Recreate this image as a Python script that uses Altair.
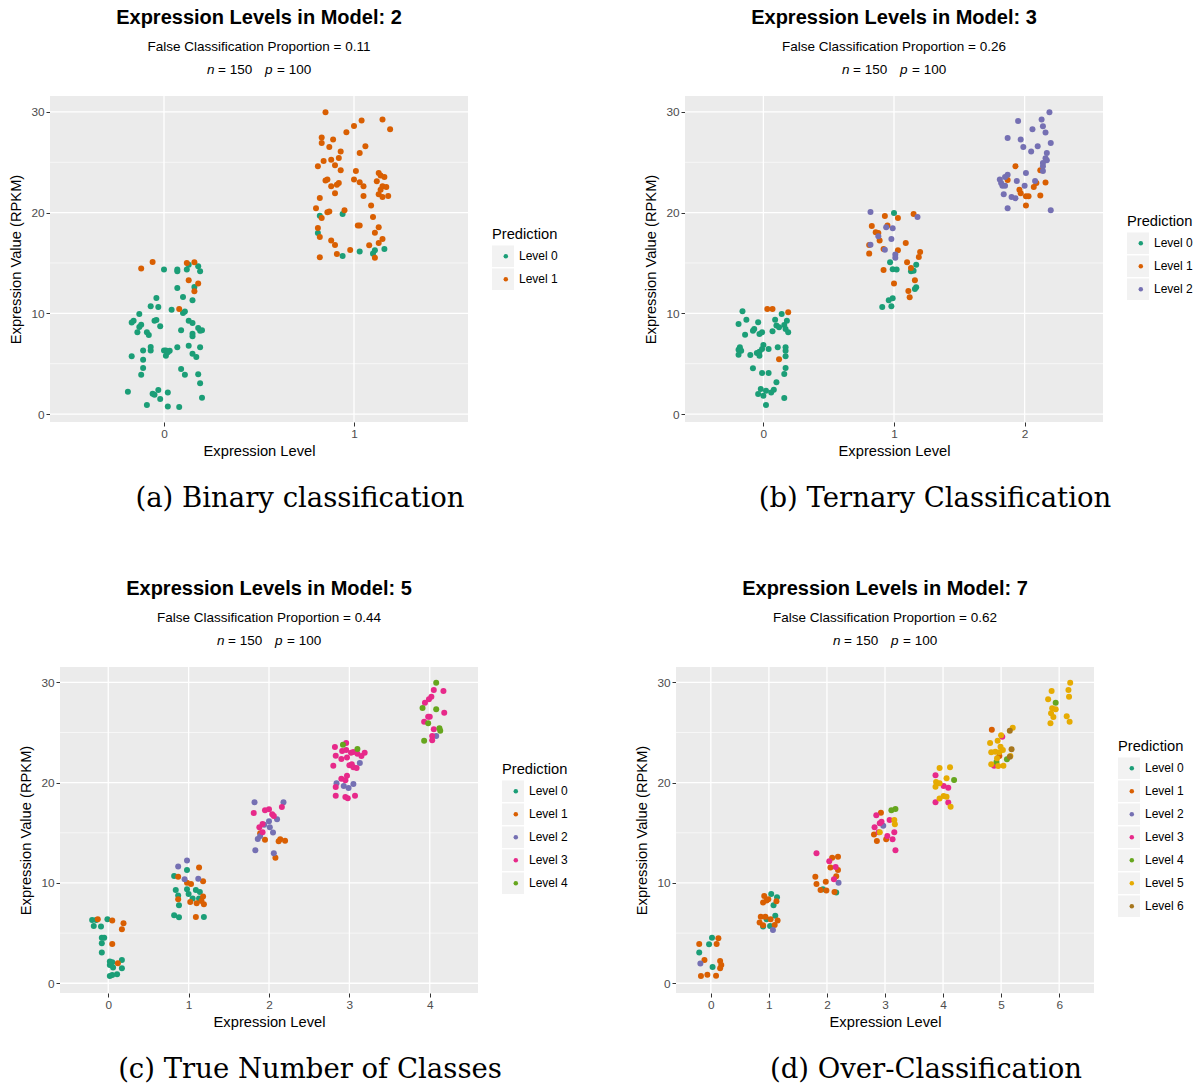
import altair as alt
import pandas as pd

# ---------------- data ----------------
DARK2 = ["#1B9E77", "#D95F02", "#7570B3", "#E7298A", "#66A61E", "#E6AB02", "#A6761D"]
LEVEL_NAMES = ["Level 0", "Level 1", "Level 2", "Level 3", "Level 4", "Level 5", "Level 6"]
Y_MAJOR = [0, 10, 20, 30]
Y_MINOR = [5, 15, 25]
TITLES = ["Expression Levels in Model: 2", "Expression Levels in Model: 3",
          "Expression Levels in Model: 5", "Expression Levels in Model: 7"]
FCP = ["0.11", "0.26", "0.44", "0.62"]
CAPTIONS = ["(a) Binary classification", "(b) Ternary Classification",
            "(c) True Number of Classes", "(d) Over-Classification"]
N_CLASSES = [2, 3, 5, 7]

# Panel (a): (jittered level, expression value) by predicted level
A_LEVEL0 = [(0.0, 14.34), (0.07, 14.34), (0.07, 14.17), (0.12, 14.34), (0.13, 14.83), (0.18, 14.67),
            (0.19, 14.17), (0.07, 12.52), (0.16, 12.62), (-0.04, 11.52), (0.10, 11.62), (0.15, 11.29),
            (-0.07, 10.7), (-0.03, 10.63), (0.04, 10.36), (0.10, 10.03), (0.11, 10.17), (-0.13, 9.93),
            (-0.16, 9.27), (-0.17, 9.1), (0.13, 9.27), (0.15, 9.04), (-0.05, 9.27), (-0.04, 9.34),
            (-0.12, 8.87), (-0.13, 8.64), (-0.02, 8.71), (-0.14, 8.11), (-0.09, 8.11), (-0.08, 7.85),
            (0.09, 8.31), (0.18, 8.54), (0.20, 8.31), (0.19, 8.28), (0.15, 7.98), (0.15, 7.72),
            (-0.07, 6.66), (-0.07, 6.32), (-0.11, 6.32), (0.0, 6.32), (0.01, 6.32), (0.03, 6.29),
            (0.01, 5.8), (0.02, 6.13), (0.07, 6.62), (0.13, 6.79), (0.19, 6.62), (0.15, 5.99),
            (0.17, 5.66), (-0.17, 5.73), (-0.11, 5.4), (-0.11, 4.57), (-0.12, 3.91), (0.09, 4.47),
            (0.11, 3.91), (0.18, 3.94), (0.19, 3.05), (-0.19, 2.22), (-0.06, 2.02), (-0.05, 1.92),
            (-0.03, 2.38), (-0.02, 1.49), (0.02, 2.15), (0.20, 1.62), (-0.09, 0.89), (0.02, 0.76),
            (0.08, 0.7),
            (0.82, 19.7), (0.94, 19.87), (0.81, 17.98), (0.94, 15.7), (1.03, 16.13), (1.10, 15.93),
            (1.11, 16.26), (1.16, 16.39)]
A_LEVEL1 = [(-0.06, 15.1), (-0.12, 14.44), (0.12, 15.0), (0.16, 15.07), (0.13, 13.28), (0.18, 12.95),
            (0.16, 12.19), (0.08, 10.43),
            (0.85, 29.97), (1.04, 29.14), (1.0, 28.61), (1.15, 29.24), (1.19, 28.28), (0.96, 27.98),
            (0.83, 27.45), (0.89, 27.25), (0.83, 26.92), (0.87, 26.52), (0.93, 26.06), (1.06, 26.59),
            (1.03, 25.93), (0.92, 25.43), (0.88, 25.26), (0.84, 25.13), (0.9, 24.7), (0.81, 24.6),
            (0.93, 24.2), (1.01, 24.14), (1.13, 23.94), (1.14, 23.68), (1.16, 23.54), (1.12, 23.11),
            (1.0, 23.28), (1.03, 23.01), (1.05, 22.62), (0.85, 23.18), (0.86, 23.28), (0.88, 22.62),
            (0.92, 22.95), (0.91, 22.78), (1.15, 22.62), (1.17, 22.55), (1.14, 22.28), (0.9, 21.92),
            (1.13, 21.82), (1.15, 21.56), (1.18, 21.66), (1.05, 21.66), (0.82, 21.46), (1.09, 20.7),
            (0.8, 20.43), (0.95, 20.23), (0.86, 20.03), (0.87, 20.1), (0.83, 19.47), (1.1, 19.57),
            (1.02, 18.71), (1.03, 18.71), (0.81, 18.48), (1.13, 18.54), (0.82, 17.58), (1.11, 18.01),
            (1.15, 17.38), (1.13, 16.99), (0.88, 17.22), (0.9, 16.79), (1.08, 16.75), (0.98, 16.29),
            (0.91, 15.89), (1.11, 15.53), (0.82, 15.56)]

# Panel (b)
B_LEVEL0 = [(-0.16, 10.2), (-0.13, 9.37), (-0.19, 8.94), (-0.04, 9.11), (-0.07, 8.44), (-0.08, 8.28),
            (-0.01, 8.11), (-0.03, 7.95), (-0.14, 7.88), (0.09, 9.37), (0.14, 9.93), (0.18, 9.27),
            (0.10, 8.78), (0.12, 8.61), (0.07, 8.21), (0.16, 8.84), (0.17, 8.44), (0.19, 8.11),
            (-0.18, 6.62), (-0.19, 6.39), (-0.17, 6.29), (-0.19, 5.89), (-0.10, 5.86), (-0.05, 6.06),
            (-0.03, 6.19), (0.0, 6.85), (-0.01, 6.46), (0.04, 6.46), (-0.03, 5.8), (0.11, 6.62),
            (0.17, 6.62), (0.17, 6.29), (0.17, 5.73), (-0.08, 4.54), (-0.01, 4.07), (0.04, 4.07),
            (0.17, 4.57), (0.16, 3.97), (0.10, 3.15), (-0.02, 2.48), (0.02, 2.32), (0.06, 2.15),
            (0.08, 2.42), (-0.04, 1.99), (0.0, 1.82), (0.16, 1.59), (0.02, 0.89),
            (1.0, 19.97), (0.97, 15.07), (0.99, 14.37), (1.02, 14.34), (1.13, 14.17), (1.15, 14.24),
            (1.17, 14.83), (1.17, 12.58), (1.16, 12.42), (0.96, 11.29), (0.99, 11.49), (0.91, 10.63),
            (0.98, 10.7)]
B_LEVEL1 = [(0.03, 10.43), (0.07, 10.43), (0.19, 10.1), (0.12, 5.43),
            (0.93, 19.67), (1.03, 19.47), (1.15, 19.87), (0.83, 18.68), (0.95, 18.71), (0.86, 18.05),
            (0.88, 17.98), (0.89, 17.22), (0.81, 16.79), (0.81, 15.93), (0.92, 16.39), (1.03, 16.26),
            (1.09, 16.99), (1.2, 16.09), (1.19, 15.6), (1.1, 15.07), (1.13, 14.5), (0.92, 14.3),
            (1.0, 12.95), (1.16, 13.28), (1.11, 12.22), (1.12, 11.59),
            (1.93, 24.6), (2.12, 24.21), (1.87, 23.25), (1.96, 22.28), (1.97, 21.92), (2.07, 22.55),
            (2.09, 22.95), (2.16, 22.98), (2.01, 21.62), (2.03, 21.62), (2.12, 21.69), (2.01, 20.7)]
B_LEVEL2 = [(0.82, 20.07), (1.18, 19.57), (0.94, 18.54), (0.99, 18.44), (0.88, 17.65), (0.98, 17.38),
            (0.82, 16.82), (0.93, 16.32), (1.01, 15.83), (1.01, 15.53),
            (2.19, 29.97), (1.95, 29.11), (2.13, 29.24), (2.06, 28.28), (2.14, 28.58), (2.16, 27.95),
            (1.87, 27.42), (1.97, 27.25), (1.99, 26.52), (2.2, 26.92), (2.1, 26.59), (2.05, 26.06),
            (2.17, 25.93), (2.16, 25.4), (2.17, 25.2), (2.14, 24.93), (2.14, 24.6), (2.14, 24.14),
            (2.01, 23.94), (1.87, 23.77), (1.85, 23.54), (1.81, 23.28), (1.82, 22.95), (1.83, 22.68),
            (1.85, 22.68), (1.94, 23.15), (2.0, 22.68), (2.08, 23.15), (1.84, 21.82), (1.9, 21.56),
            (1.93, 21.42), (1.87, 20.43), (2.2, 20.23)]

# Panel (c)
C_LEVEL0 = [(-0.2, 6.31), (-0.15, 6.31), (-0.18, 5.71), (-0.09, 5.65), (-0.01, 6.38), (-0.08, 4.55),
            (-0.05, 4.55), (-0.08, 3.99), (-0.08, 3.06), (0.02, 2.16), (0.05, 2.09), (0.02, 1.83),
            (0.06, 1.56), (0.17, 2.33), (0.17, 1.5), (0.11, 0.9), (0.02, 0.73), (0.05, 0.83),
            (0.82, 10.7), (0.98, 11.3), (0.84, 9.3), (0.98, 9.37), (0.87, 8.74), (1.0, 8.9),
            (1.09, 9.3), (1.14, 9.1), (1.05, 8.44), (1.13, 8.44), (0.88, 7.77), (0.82, 6.78),
            (0.88, 6.58), (1.19, 6.61)]
C_LEVEL1 = [(-0.13, 6.38), (0.05, 6.25), (0.19, 5.98), (0.17, 5.38), (0.05, 3.92), (0.12, 1.99),
            (0.87, 10.63), (1.13, 11.53), (0.98, 10.03), (1.03, 9.9), (1.18, 10.17), (0.87, 8.37),
            (1.02, 8.11), (1.1, 7.97), (1.18, 8.64), (1.19, 7.87), (1.16, 8.21), (1.09, 6.61),
            (1.95, 14.32), (2.14, 14.35), (2.2, 14.22), (2.12, 14.15), (2.08, 12.52), (1.89, 14.95)]
C_LEVEL2 = [(0.87, 11.63), (0.98, 12.23), (0.95, 10.37), (1.12, 10.43),
            (1.82, 18.04), (2.18, 18.04), (1.94, 15.81), (2.0, 16.15), (2.1, 16.35), (2.01, 15.55),
            (2.05, 15.02), (1.89, 14.68), (1.86, 14.39), (1.83, 13.26), (2.06, 12.96),
            (3.13, 21.96), (2.84, 19.93), (2.93, 19.67), (2.99, 19.47), (3.05, 19.87), (4.08, 24.65)]
C_LEVEL3 = [(1.81, 16.98), (1.95, 17.24), (2.0, 17.34), (2.04, 16.84), (2.06, 16.68), (2.16, 17.57),
            (1.88, 15.55), (1.92, 15.88), (1.92, 15.05),
            (2.82, 23.55), (2.96, 23.95), (2.91, 23.16), (2.96, 23.26), (3.02, 22.99), (3.05, 23.06),
            (3.1, 22.89), (3.19, 22.99), (3.15, 22.66), (2.83, 22.69), (2.9, 22.36), (2.97, 22.52),
            (2.8, 21.69), (3.0, 21.73), (3.03, 21.83), (3.05, 21.53), (3.09, 21.46), (2.9, 20.4),
            (2.95, 20.23), (2.97, 20.7), (2.83, 19.57), (2.83, 18.7), (2.95, 18.57), (2.98, 18.44),
            (3.07, 18.7),
            (4.05, 29.24), (4.17, 29.14), (4.02, 28.57), (3.99, 28.31), (3.94, 27.97), (4.18, 26.98),
            (3.98, 26.58), (4.0, 26.58), (3.93, 26.08), (4.05, 25.32), (4.03, 24.65), (4.03, 24.22)]
C_LEVEL4 = [(2.92, 23.79), (3.1, 23.36), (4.08, 29.97), (3.91, 27.44), (4.08, 27.31), (3.98, 25.91),
            (4.12, 25.42), (4.13, 25.18), (3.93, 24.19)]

# Panel (d)
D_LEVEL0 = [(0.02, 4.55), (-0.03, 3.89), (-0.2, 3.06), (0.03, 1.63),
            (1.04, 8.9), (1.14, 8.57), (1.08, 7.77), (1.11, 6.74), (0.96, 6.38), (0.9, 5.65), (1.02, 5.71),
            (1.93, 9.37), (2.16, 9.04)]
D_LEVEL1 = [(0.13, 4.49), (0.1, 3.92), (-0.2, 3.92), (-0.11, 2.33), (0.16, 2.23), (0.18, 1.83),
            (0.16, 1.5), (-0.06, 0.86), (-0.17, 0.73), (0.09, 0.76),
            (0.92, 8.7), (0.9, 8.04), (0.96, 8.24), (0.99, 8.37), (1.13, 8.17), (0.86, 6.64),
            (0.94, 6.64), (0.84, 6.05), (0.9, 5.78), (1.03, 6.38), (1.15, 6.25), (1.1, 5.81),
            (2.09, 12.52), (2.19, 12.62), (2.06, 11.53), (2.19, 11.3), (2.16, 10.66), (1.8, 10.63),
            (1.98, 10.13), (1.82, 9.9), (1.89, 9.3), (1.99, 9.24), (2.13, 9.1),
            (2.93, 17.01), (2.81, 14.82), (2.86, 14.19), (3.02, 14.35),
            (4.84, 25.28), (4.97, 22.66)]
D_LEVEL2 = [(-0.18, 1.96), (1.07, 5.32), (2.2, 10.03), (2.97, 15.71)]
D_LEVEL3 = [(1.82, 12.96), (2.04, 12.16), (2.15, 11.6), (2.12, 10.37),
            (2.85, 16.74), (2.94, 16.11), (2.91, 15.95), (2.82, 15.55), (3.08, 16.28), (3.16, 15.05),
            (2.89, 15.05), (3.04, 14.68), (3.13, 14.35), (3.18, 13.26),
            (3.87, 20.73), (4.01, 19.67), (4.09, 19.5), (3.87, 18.04), (4.09, 18.01),
            (5.02, 24.58), (4.88, 21.69)]
D_LEVEL4 = [(3.11, 17.24), (3.18, 17.38), (4.19, 20.27), (4.92, 22.06), (5.1, 22.33), (5.94, 27.97)]
D_LEVEL5 = [(3.16, 16.28), (3.17, 15.85), (2.91, 15.05),
            (3.94, 21.46), (4.12, 21.53), (4.06, 20.43), (3.88, 20.07), (3.94, 19.93), (3.87, 19.6),
            (4.01, 18.67), (4.06, 18.6), (3.94, 18.41), (4.13, 17.61),
            (5.0, 24.72), (5.2, 25.48), (4.81, 23.95), (4.94, 24.19), (4.99, 23.59), (4.83, 23.02),
            (4.9, 23.09), (4.97, 23.02), (5.03, 23.26), (5.16, 22.66), (4.93, 22.43), (4.83, 21.83),
            (4.95, 21.66), (5.04, 21.69),
            (6.19, 29.97), (5.87, 29.14), (6.16, 29.24), (6.17, 28.57), (5.81, 28.31), (5.88, 27.41),
            (5.94, 27.31), (5.86, 26.91), (5.9, 26.54), (6.13, 26.61), (6.18, 26.08), (5.85, 25.91)]
D_LEVEL6 = [(5.15, 25.18), (5.18, 23.32), (5.15, 22.59)]

# ---------------- helpers ----------------
FONT = "Liberation Sans"
SERIF = "DejaVu Serif"
W = 418
H = 326
PANEL_BG = "#EBEBEB"
ONE = pd.DataFrame({"d": [0]})


def label(text, x, y, size, weight="normal", style="normal", font=FONT, align="center", color="black"):
    return alt.Chart(ONE).mark_text(
        text=text, font=font, fontSize=size, fontWeight=weight, fontStyle=style,
        align=align, baseline="middle", color=color
    ).encode(x=alt.value(x), y=alt.value(y))


def panel(levels, idx, ydom, legend_y, extra=0):
    """extra: blank pixels left of the grey panel (used to indent a row-2 panel)."""
    k = N_CLASSES[idx]
    rows = []
    for i, pts in enumerate(levels):
        for (x, y) in pts:
            rows.append({"x": x, "y": y, "pred": LEVEL_NAMES[i], "key": i})
    df = pd.DataFrame(rows)
    names = LEVEL_NAMES[:k]
    per_unit = W / (k - 1 + 1.2)
    xs = alt.Scale(domain=[-0.6 - extra / per_unit, k - 0.4], nice=False, zero=False)
    ys = alt.Scale(domain=ydom, nice=False, zero=False)
    xaxis = alt.Axis(values=list(range(k)), format="d", title="Expression Level", grid=False,
                     titleX=extra + W / 2)
    yaxis = alt.Axis(values=Y_MAJOR, title="Expression Value (RPKM)", grid=False, offset=-extra)
    lx = extra + W + 24

    bg = alt.Chart(ONE).mark_rect(color=PANEL_BG).encode(
        x=alt.value(extra), x2=alt.value(extra + W), y=alt.value(0), y2=alt.value(H))

    hminor = alt.Chart(pd.DataFrame({"y": Y_MINOR})).mark_rule(color="white", strokeWidth=0.6).encode(
        y=alt.Y("y:Q", scale=ys, axis=yaxis), x=alt.value(extra), x2=alt.value(extra + W))
    hmajor = alt.Chart(pd.DataFrame({"y": Y_MAJOR})).mark_rule(color="white", strokeWidth=1.3).encode(
        y=alt.Y("y:Q", scale=ys, axis=yaxis), x=alt.value(extra), x2=alt.value(extra + W))
    vmajor = alt.Chart(pd.DataFrame({"x": list(range(k))})).mark_rule(color="white", strokeWidth=1.3).encode(
        x=alt.X("x:Q", scale=xs, axis=xaxis), y=alt.value(0), y2=alt.value(H))

    pts = alt.Chart(df).mark_circle(size=36, opacity=1).encode(
        x=alt.X("x:Q", scale=xs, axis=xaxis),
        y=alt.Y("y:Q", scale=ys, axis=yaxis),
        color=alt.Color("pred:N", scale=alt.Scale(domain=names, range=DARK2[:k]), legend=alt.Legend(
            title=None, labelExpr="''", orient="none", legendX=lx + 8.8, legendY=legend_y + 18.2,
            symbolType="circle", symbolSize=20, symbolStrokeWidth=0, clipHeight=22, rowPadding=1,
            zindex=1)),
    )

    keys = alt.Chart(df).mark_point(size=0, filled=True, color="#F2F2F2", opacity=1).encode(
        x=alt.X("x:Q", scale=xs, axis=xaxis),
        y=alt.Y("y:Q", scale=ys, axis=yaxis),
        shape=alt.Shape("key:N", scale=alt.Scale(domain=list(range(k)), range=["square"] * k),
                        legend=alt.Legend(
                            title="Prediction", orient="none", legendX=lx, legendY=legend_y,
                            symbolSize=484, symbolStrokeWidth=0, symbolOpacity=1,
                            symbolFillColor="#F2F2F2", clipHeight=22, rowPadding=1,
                            labelExpr="'Level ' + datum.label", labelFontSize=12, labelColor="black",
                            labelFont=FONT, labelOffset=5, titleFontSize=14.7, titleColor="black",
                            titleFont=FONT, titleFontWeight="normal", titlePadding=3.5, zindex=0)),
    )

    c = extra + W / 2
    texts = [
        label(TITLES[idx], c, -78, 20, weight="bold"),
        label("False Classification Proportion = " + FCP[idx], c, -49, 13.5),
        label("n", c - 52, -26, 13.5, style="italic", align="left"),
        label("= 150", c - 41, -26, 13.5, align="left"),
        label("p", c + 6, -26, 13.5, style="italic", align="left"),
        label("= 100", c + 18, -26, 13.5, align="left"),
        label(CAPTIONS[idx], extra + 250, 403, 27.5, font=SERIF),
    ]
    return alt.layer(bg, hminor, hmajor, vmajor, pts, keys, *texts).properties(width=W + extra, height=H)


def indep(ch):
    return ch.resolve_scale(color="independent", shape="independent").resolve_legend(
        color="independent", shape="independent")


A = panel([A_LEVEL0, A_LEVEL1], 0, [-0.79, 31.58], 131)
B = panel([B_LEVEL0, B_LEVEL1, B_LEVEL2], 1, [-0.79, 31.58], 118)
C = panel([C_LEVEL0, C_LEVEL1, C_LEVEL2, C_LEVEL3, C_LEVEL4], 2, [-0.97, 31.53], 95, extra=10)
D = panel([D_LEVEL0, D_LEVEL1, D_LEVEL2, D_LEVEL3, D_LEVEL4, D_LEVEL5, D_LEVEL6], 3,
          [-0.97, 31.53], 72)

row1 = indep(alt.hconcat(A, B, spacing=85))
row2 = indep(alt.hconcat(C, D, spacing=66))
chart = indep(alt.vconcat(row1, row2, spacing=66)).properties(
    padding={"left": 8, "top": 8, "right": 0, "bottom": 0}, background="white"
).configure_view(stroke=None).configure_axis(
    domain=False, tickColor="#333333", tickSize=4, tickWidth=1, labelColor="#4D4D4D",
    labelFontSize=11.8, labelFont=FONT, labelPadding=2, titleFont=FONT, titleFontSize=14.7,
    titleFontWeight="normal", titleColor="black"
).configure_axisX(titlePadding=4).configure_axisY(titlePadding=7)

chart.save("out.html", embed_options={"renderer": "svg", "actions": False})
